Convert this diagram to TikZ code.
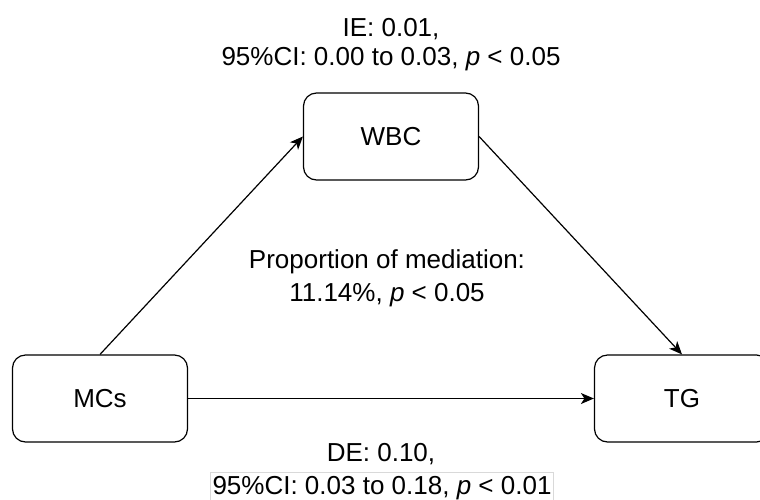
\documentclass[tikz,border=0pt]{standalone}
\usepackage{fontspec}
\setmainfont{Liberation Sans}
\usetikzlibrary{arrows.meta, positioning}
\tikzstyle{block} = [rectangle, rounded corners=13pt, draw, line width=1.2pt, minimum width=175pt, minimum height=87pt, text centered, font=\fontsize{26}{29}\selectfont]
\tikzstyle{note} = [align=center, inner sep=0pt, anchor=base, font=\fontsize{26}{29}\selectfont]
\tikzstyle{arrow} = [line width=1.2pt, ->, >={Stealth[length=13pt, width=11pt, inset=3.5pt]}]

\begin{document}
\begin{tikzpicture}[x=1pt, y=-1pt]
            \useasboundingbox (0,0) rectangle (760,499);
            \node (mcs) [block] at (100,398.5) {MCs};
            \node (wbc) [block] at (391,136.5) {WBC};
            \node (tg)  [block] at (682,398.5) {TG};

            % base of a two-line note is its last line
            \node (ie)   [note] at (391,65)  {IE: 0.01,\\95\%CI: 0.00 to 0.03, \textit{p} < 0.05};
            \node (prop) [note] at (387,301) {Proportion of mediation:\\[4pt]11.14\%, \textit{p} < 0.05};
            \node (de)   [note] at (381,461) {DE: 0.10,};
            \node (deci) [note, draw=gray!30, line width=0.8pt, inner xsep=2pt, inner ysep=3pt] at (382,494) {95\%CI: 0.03 to 0.18, \textit{p} < 0.01};

            \draw [arrow] (mcs.north) -- (wbc.west);
            \draw [arrow] (wbc.east)  -- (tg.north);
            \draw [arrow] (mcs.east)  -- (tg.west);
        \end{tikzpicture}
\end{document}
